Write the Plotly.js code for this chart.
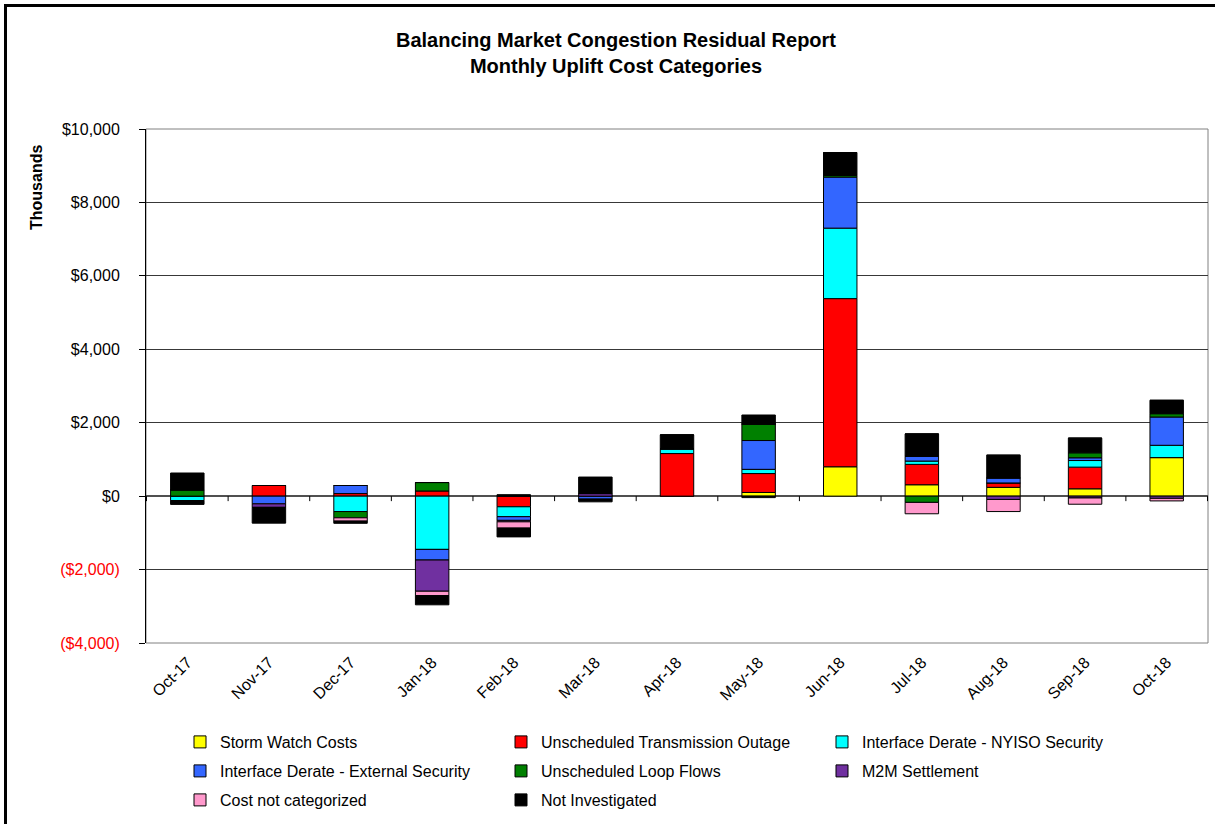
<!DOCTYPE html>
<html>
<head>
<meta charset="utf-8">
<script src="https://cdn.plot.ly/plotly-3.0.1.min.js"></script>
<style>
  html, body { margin: 0; padding: 0; background: #fff; overflow: hidden; }
  #chart { position: absolute; left: 0; top: 0; width: 1215px; height: 824px; }
  #frame { position: absolute; left: 4px; top: 4px; width: 1300px; height: 900px;
           border: 3px solid #000; pointer-events: none; }
</style>
</head>
<body>
<div id="chart"></div>
<div id="frame"></div>
<script>
// ---- data (thousands of $) ----
const categories = ['Oct-17','Nov-17','Dec-17','Jan-18','Feb-18','Mar-18','Apr-18','May-18','Jun-18','Jul-18','Aug-18','Sep-18','Oct-18'];
const stormWatch      = [0,    0,    0,     0,     0,    0,    0,    100,  800,  310,  240,  200, 1050];
const transOutage     = [0,    290,  70,    140,  -290,  0,    1160, 515,  4580, 555,  120,  590, 0];
const nyisoSecurity   = [-120, 0,   -420,  -1450, -270,  0,    130,  115,  1920, 90,   0,    180, 335];
const externalSecurity= [0,   -210,  220,  -290,  -100, -80,   0,    785,  1390, 130,  135,  75,  770];
const loopFlows       = [170,  0,   -170,   230,   0,    0,    0,    450,  50,  -170,  0,    135, 90];
const m2mSettlement   = [0,   -95,   0,    -850,  -40,   70,   0,    0,    0,    0,   -90,  -50, -60];
const notCategorized  = [0,    0,   -90,   -120,  -170,  0,    0,    0,    0,   -310, -330, -170, -70];
const notInvestigated = [460,  0,    0,     0,     40,   450,  380,  245,  620,  610,  620,  400, 365];
const notInvestigatedBelow = [-105, -430, -60, -250, -240, -75, 0, -40, 0, 0, 0, 0, 0];

const seriesNames = ['Storm Watch Costs','Unscheduled Transmission Outage','Interface Derate - NYISO Security',
  'Interface Derate - External Security','Unscheduled Loop Flows','M2M Settlement','Cost not categorized','Not Investigated'];
const seriesColors = ['#FFFF00','#FF0000','#00FFFF','#3366FF','#008000','#7030A0','#FF99CC','#000000'];
const seriesValues = [stormWatch, transOutage, nyisoSecurity, externalSecurity, loopFlows, m2mSettlement, notCategorized, notInvestigated];
const legendRows = ['legend','legend','legend','legend2','legend2','legend2','legend3','legend3'];

const yTickVals = [-4000,-2000,0,2000,4000,6000,8000,10000];
const yRange = [-4000, 10000];

function fmtMoney(v) {
  const s = '$' + Math.abs(v).toLocaleString('en-US');
  return v < 0 ? "<span style='color:#FF0000'>(" + s + ")</span>" : s;
}

const FONT = 'Liberation Sans, Arial, sans-serif';

const traces = seriesNames.map((name, i) => ({
  type: 'bar',
  name: name,
  x: categories,
  y: seriesValues[i],
  marker: { color: seriesColors[i], line: { color: '#000', width: 1 } },
  legend: legendRows[i],
  legendgroup: name,
  hoverinfo: 'x+y+name'
}));
traces.push({
  type: 'bar',
  name: 'Not Investigated',
  x: categories,
  y: notInvestigatedBelow,
  marker: { color: '#000000', line: { color: '#000', width: 1 } },
  legend: 'legend3',
  legendgroup: 'Not Investigated',
  showlegend: false
});

// small ticks on the zero line between categories
const shapes = [{
  type: 'rect', xref: 'paper', yref: 'paper', x0: 0, x1: 1, y0: 0, y1: 1,
  line: { color: '#808080', width: 1 }, layer: 'below'
}];
for (let i = 0; i <= categories.length; i++) {
  shapes.push({
    type: 'line', xref: 'x', yref: 'y', ysizemode: 'pixel', yanchor: 0,
    x0: i - 0.5, x1: i - 0.5, y0: 0, y1: -5,
    line: { color: '#000', width: 1 }
  });
}

const legendCommon = {
  orientation: 'h', xref: 'container', yref: 'container',
  x: 180 / 1215, xanchor: 'left', yanchor: 'middle',
  entrywidth: 276, entrywidthmode: 'pixels', itemwidth: 30,
  font: { family: FONT, size: 16, color: '#000' },
  bgcolor: 'rgba(0,0,0,0)', traceorder: 'normal'
};

const layout = {
  width: 1215, height: 824,
  margin: { l: 146, r: 7, t: 129, b: 181, pad: 0 },
  paper_bgcolor: '#fff', plot_bgcolor: '#fff',
  font: { family: FONT, color: '#000' },
  barmode: 'relative',
  bargap: 0.59,
  title: {
    text: '<b>Balancing Market Congestion Residual Report<br>Monthly Uplift Cost Categories</b>',
    xref: 'container', yref: 'container', x: 616 / 1215, xanchor: 'center',
    y: 1 - 47 / 824, yanchor: 'middle',
    font: { family: FONT, size: 20, color: '#000' }
  },
  xaxis: {
    type: 'category', showgrid: false, showline: false, zeroline: false,
    ticks: '', tickangle: -45, ticklabelstandoff: 6,
    tickfont: { family: FONT, size: 16, color: '#000' }
  },
  yaxis: {
    range: yRange, tickvals: yTickVals, ticktext: yTickVals.map(fmtMoney),
    showgrid: true, gridcolor: '#383838', gridwidth: 1,
    zeroline: true, zerolinecolor: '#505050', zerolinewidth: 2,
    showline: true, linecolor: '#000', linewidth: 1,
    ticks: 'outside', ticklen: 6, tickcolor: '#000', ticklabelstandoff: 16,
    tickfont: { family: FONT, size: 16, color: '#000' }
  },
  annotations: [{
    text: '<b>Thousands</b>', textangle: -90, showarrow: false,
    xref: 'paper', yref: 'paper', x: (36 - 146) / 1062, y: (643 - 188) / 514,
    xanchor: 'center', yanchor: 'middle',
    font: { family: FONT, size: 16, color: '#000' }
  }],
  shapes: shapes,
  legend: Object.assign({}, legendCommon, { y: 1 - 742 / 824 }),
  legend2: Object.assign({}, legendCommon, { y: 1 - 771 / 824 }),
  legend3: Object.assign({}, legendCommon, { y: 1 - 800 / 824 }),
  showlegend: true
};

Plotly.newPlot('chart', traces, layout, { displayModeBar: false, staticPlot: true });
</script>
</body>
</html>
